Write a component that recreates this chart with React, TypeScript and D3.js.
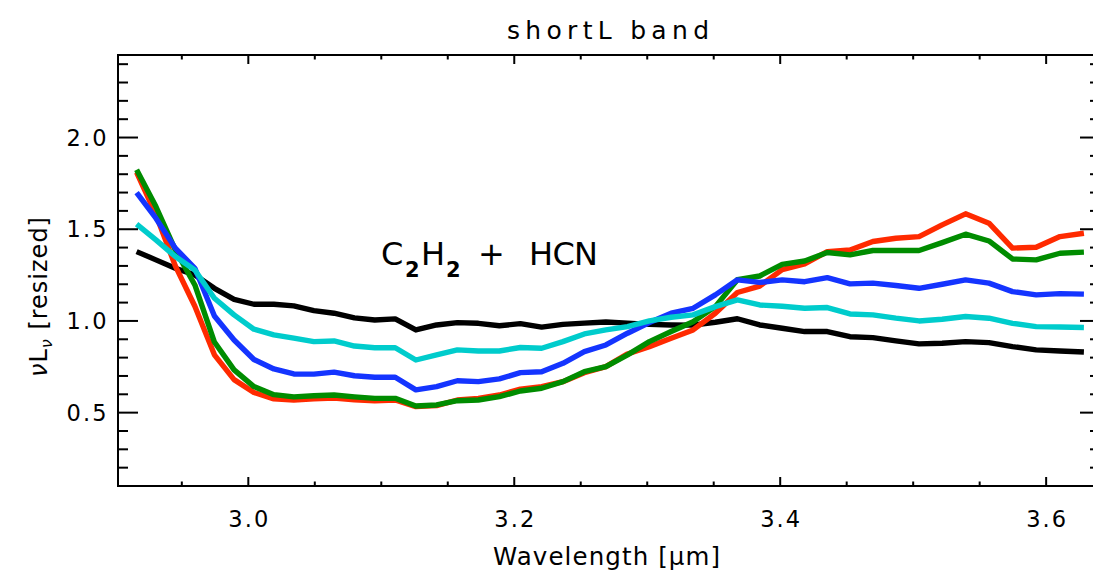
import React from "react";
import * as d3 from "d3";

// wavelength grid (micron), read from the vertex positions
const WAVE = [
  2.9160, 2.9305, 2.9451, 2.9598, 2.9745, 2.9893, 3.0042, 3.0192, 3.0342, 3.0493,
  3.0645, 3.0798, 3.0951, 3.1105, 3.1260, 3.1416, 3.1572, 3.1730, 3.1888, 3.2046,
  3.2206, 3.2366, 3.2527, 3.2689, 3.2852, 3.3016, 3.3180, 3.3345, 3.3512, 3.3678,
  3.3846, 3.4015, 3.4184, 3.4354, 3.4525, 3.4697, 3.4870, 3.5044, 3.5218, 3.5394,
  3.5570, 3.5747, 3.5925, 3.6104, 3.6284,
];

const RED = [
  1.81, 1.58, 1.30, 1.08, 0.815, 0.68, 0.61, 0.575, 0.569, 0.575,
  0.58, 0.57, 0.565, 0.569, 0.533, 0.538, 0.569, 0.578, 0.596, 0.628,
  0.642, 0.669, 0.718, 0.751, 0.82, 0.86, 0.906, 0.951, 1.042, 1.155,
  1.19, 1.28, 1.311, 1.378, 1.387, 1.433, 1.451, 1.46, 1.524, 1.584,
  1.533, 1.397, 1.402, 1.46, 1.478,
];

const GREEN = [
  1.825, 1.624, 1.387, 1.196, 0.885, 0.733, 0.642, 0.598, 0.586, 0.592,
  0.596, 0.586, 0.578, 0.578, 0.536, 0.542, 0.565, 0.569, 0.587, 0.618,
  0.633, 0.669, 0.723, 0.751, 0.815, 0.887, 0.942, 0.996, 1.078, 1.225,
  1.245, 1.308, 1.327, 1.373, 1.36, 1.384, 1.384, 1.384, 1.427, 1.473,
  1.436, 1.338, 1.333, 1.369, 1.375,
];

const BLUE = [
  1.70, 1.56, 1.397, 1.287, 1.027, 0.896, 0.79, 0.738, 0.711, 0.71,
  0.721, 0.701, 0.693, 0.693, 0.624, 0.642, 0.674, 0.669, 0.684, 0.718,
  0.723, 0.769, 0.833, 0.869, 0.933, 0.991, 1.042, 1.069, 1.142, 1.224,
  1.21, 1.224, 1.214, 1.236, 1.202, 1.206, 1.193, 1.178, 1.2, 1.224,
  1.206, 1.16, 1.142, 1.149, 1.146,
];

const CYAN = [
  1.528, 1.442, 1.351, 1.278, 1.124, 1.033, 0.955, 0.924, 0.906, 0.887,
  0.891, 0.863, 0.854, 0.854, 0.787, 0.815, 0.842, 0.836, 0.836, 0.855,
  0.851, 0.887, 0.929, 0.951, 0.969, 1.0, 1.02, 1.033, 1.078, 1.115,
  1.087, 1.08, 1.069, 1.073, 1.038, 1.033, 1.015, 1.0, 1.009, 1.024,
  1.015, 0.987, 0.969, 0.967, 0.964,
];

const BLACK = [
  1.378, 1.333, 1.287, 1.251, 1.178, 1.118, 1.091, 1.091, 1.082, 1.056,
  1.042, 1.017, 1.005, 1.011, 0.951, 0.978, 0.991, 0.987, 0.974, 0.985,
  0.966, 0.981, 0.988, 0.994, 0.988, 0.981, 0.978, 0.977, 0.993, 1.012,
  0.978, 0.96, 0.942, 0.942, 0.914, 0.909, 0.891, 0.875, 0.878, 0.887,
  0.882, 0.86, 0.842, 0.836, 0.831,
];

const X_MAJOR = [3.0, 3.2, 3.4, 3.6];
const X_LABELS = ["3.0", "3.2", "3.4", "3.6"];
const X_MINOR = [2.95, 3.05, 3.1, 3.15, 3.25, 3.3, 3.35, 3.45, 3.5, 3.55];
const Y_MAJOR = [0.5, 1.0, 1.5, 2.0];
const Y_LABELS = ["0.5", "1.0", "1.5", "2.0"];
const Y_MINOR = [0.2, 0.3, 0.4, 0.6, 0.7, 0.8, 0.9, 1.1, 1.2, 1.3, 1.4, 1.6, 1.7, 1.8, 1.9, 2.1, 2.2, 2.3, 2.4];

const SERIES = [
  { name: "black", color: "#000000", values: BLACK },
  { name: "red", color: "#ff2a00", values: RED },
  { name: "green", color: "#008c00", values: GREEN },
  { name: "blue", color: "#1434ff", values: BLUE },
  { name: "cyan", color: "#00cccc", values: CYAN },
];

const W = 1093;
const H = 570;
const FONT = "'DejaVu Sans', sans-serif";

export default function App() {
  const left = 118, right = 1100, top = 55, bottom = 486;
  const x = d3.scaleLinear().domain([2.902, 3.6405]).range([left, right]);
  const y = d3.scaleLinear().domain([0.1, 2.45]).range([bottom, top]);

  const line = d3
    .line<number>()
    .x((_, i) => x(WAVE[i]))
    .y((d) => y(d));

  const xMajLen = 9, xMinLen = 4.5, yMajLen = 20, yMinLen = 10;

  return (
    <svg
      width={W}
      height={H}
      style={{ position: "absolute", left: 0, top: 0, display: "block", background: "#fff" }}
      fontFamily={FONT}
    >
      <rect x={0} y={0} width={W} height={H} fill="#fff" />
      {/* data lines */}
      <g fill="none" strokeWidth={5.4} strokeLinejoin="round">
        {SERIES.map((s) => (
          <path key={s.name} d={line(s.values) || ""} stroke={s.color} />
        ))}
      </g>

      {/* axes box */}
      <g stroke="#000" strokeWidth={2} fill="none">
        <rect x={left} y={top} width={right - left} height={bottom - top} />
        {X_MAJOR.map((v) => (
          <g key={"xM" + v}>
            <line x1={x(v)} x2={x(v)} y1={bottom} y2={bottom - xMajLen} />
            <line x1={x(v)} x2={x(v)} y1={top} y2={top + xMajLen} />
          </g>
        ))}
        {X_MINOR.map((v) => (
          <g key={"xm" + v}>
            <line x1={x(v)} x2={x(v)} y1={bottom} y2={bottom - xMinLen} />
            <line x1={x(v)} x2={x(v)} y1={top} y2={top + xMinLen} />
          </g>
        ))}
        {Y_MAJOR.map((v) => (
          <g key={"yM" + v}>
            <line x1={left} x2={left + yMajLen} y1={y(v)} y2={y(v)} />
            <line x1={right} x2={right - yMajLen} y1={y(v)} y2={y(v)} />
          </g>
        ))}
        {Y_MINOR.map((v) => (
          <g key={"ym" + v}>
            <line x1={left} x2={left + yMinLen} y1={y(v)} y2={y(v)} />
            <line x1={right} x2={right - yMinLen} y1={y(v)} y2={y(v)} />
          </g>
        ))}
      </g>

      {/* tick labels */}
      <g fontSize={22.5} fill="#000">
        {X_MAJOR.map((v, i) => (
          <text
            key={"xl" + v}
            x={x(v) - 20}
            y={527}
            textLength={40}
            lengthAdjust="spacing"
          >
            {X_LABELS[i]}
          </text>
        ))}
        {Y_MAJOR.map((v, i) => (
          <text
            key={"yl" + v}
            x={66.5}
            y={y(v) + 8}
            textLength={40}
            lengthAdjust="spacing"
          >
            {Y_LABELS[i]}
          </text>
        ))}
      </g>

      {/* title */}
      <text x={507} y={38.5} fontSize={25} textLength={202} lengthAdjust="spacing">
        shortL band
      </text>

      {/* x axis title */}
      <text x={493} y={565} fontSize={24.5} textLength={227} lengthAdjust="spacing">
        Wavelength [μm]
      </text>

      {/* y axis title */}
      <text transform="translate(47,296.5) rotate(-90)" fontSize={24} textAnchor="middle" letterSpacing={1}>
        <tspan fontStyle="italic">ν</tspan>
        <tspan>L</tspan>
        <tspan fontSize={16} dy={5} fontStyle="italic">ν</tspan>
        <tspan dy={-5}>{"  [resized]"}</tspan>
      </text>

      {/* annotation */}
      <g fontSize={32} fill="#000">
        <text x={381} y={265}>C</text>
        <text x={405} y={276.5} fontSize={21} fontWeight="bold">2</text>
        <text x={421} y={265}>H</text>
        <text x={446} y={276.5} fontSize={21} fontWeight="bold">2</text>
        <text x={491.5} y={265} textAnchor="middle">+</text>
        <text x={529} y={265} textLength={69} lengthAdjust="spacing">HCN</text>
      </g>
    </svg>
  );
}
